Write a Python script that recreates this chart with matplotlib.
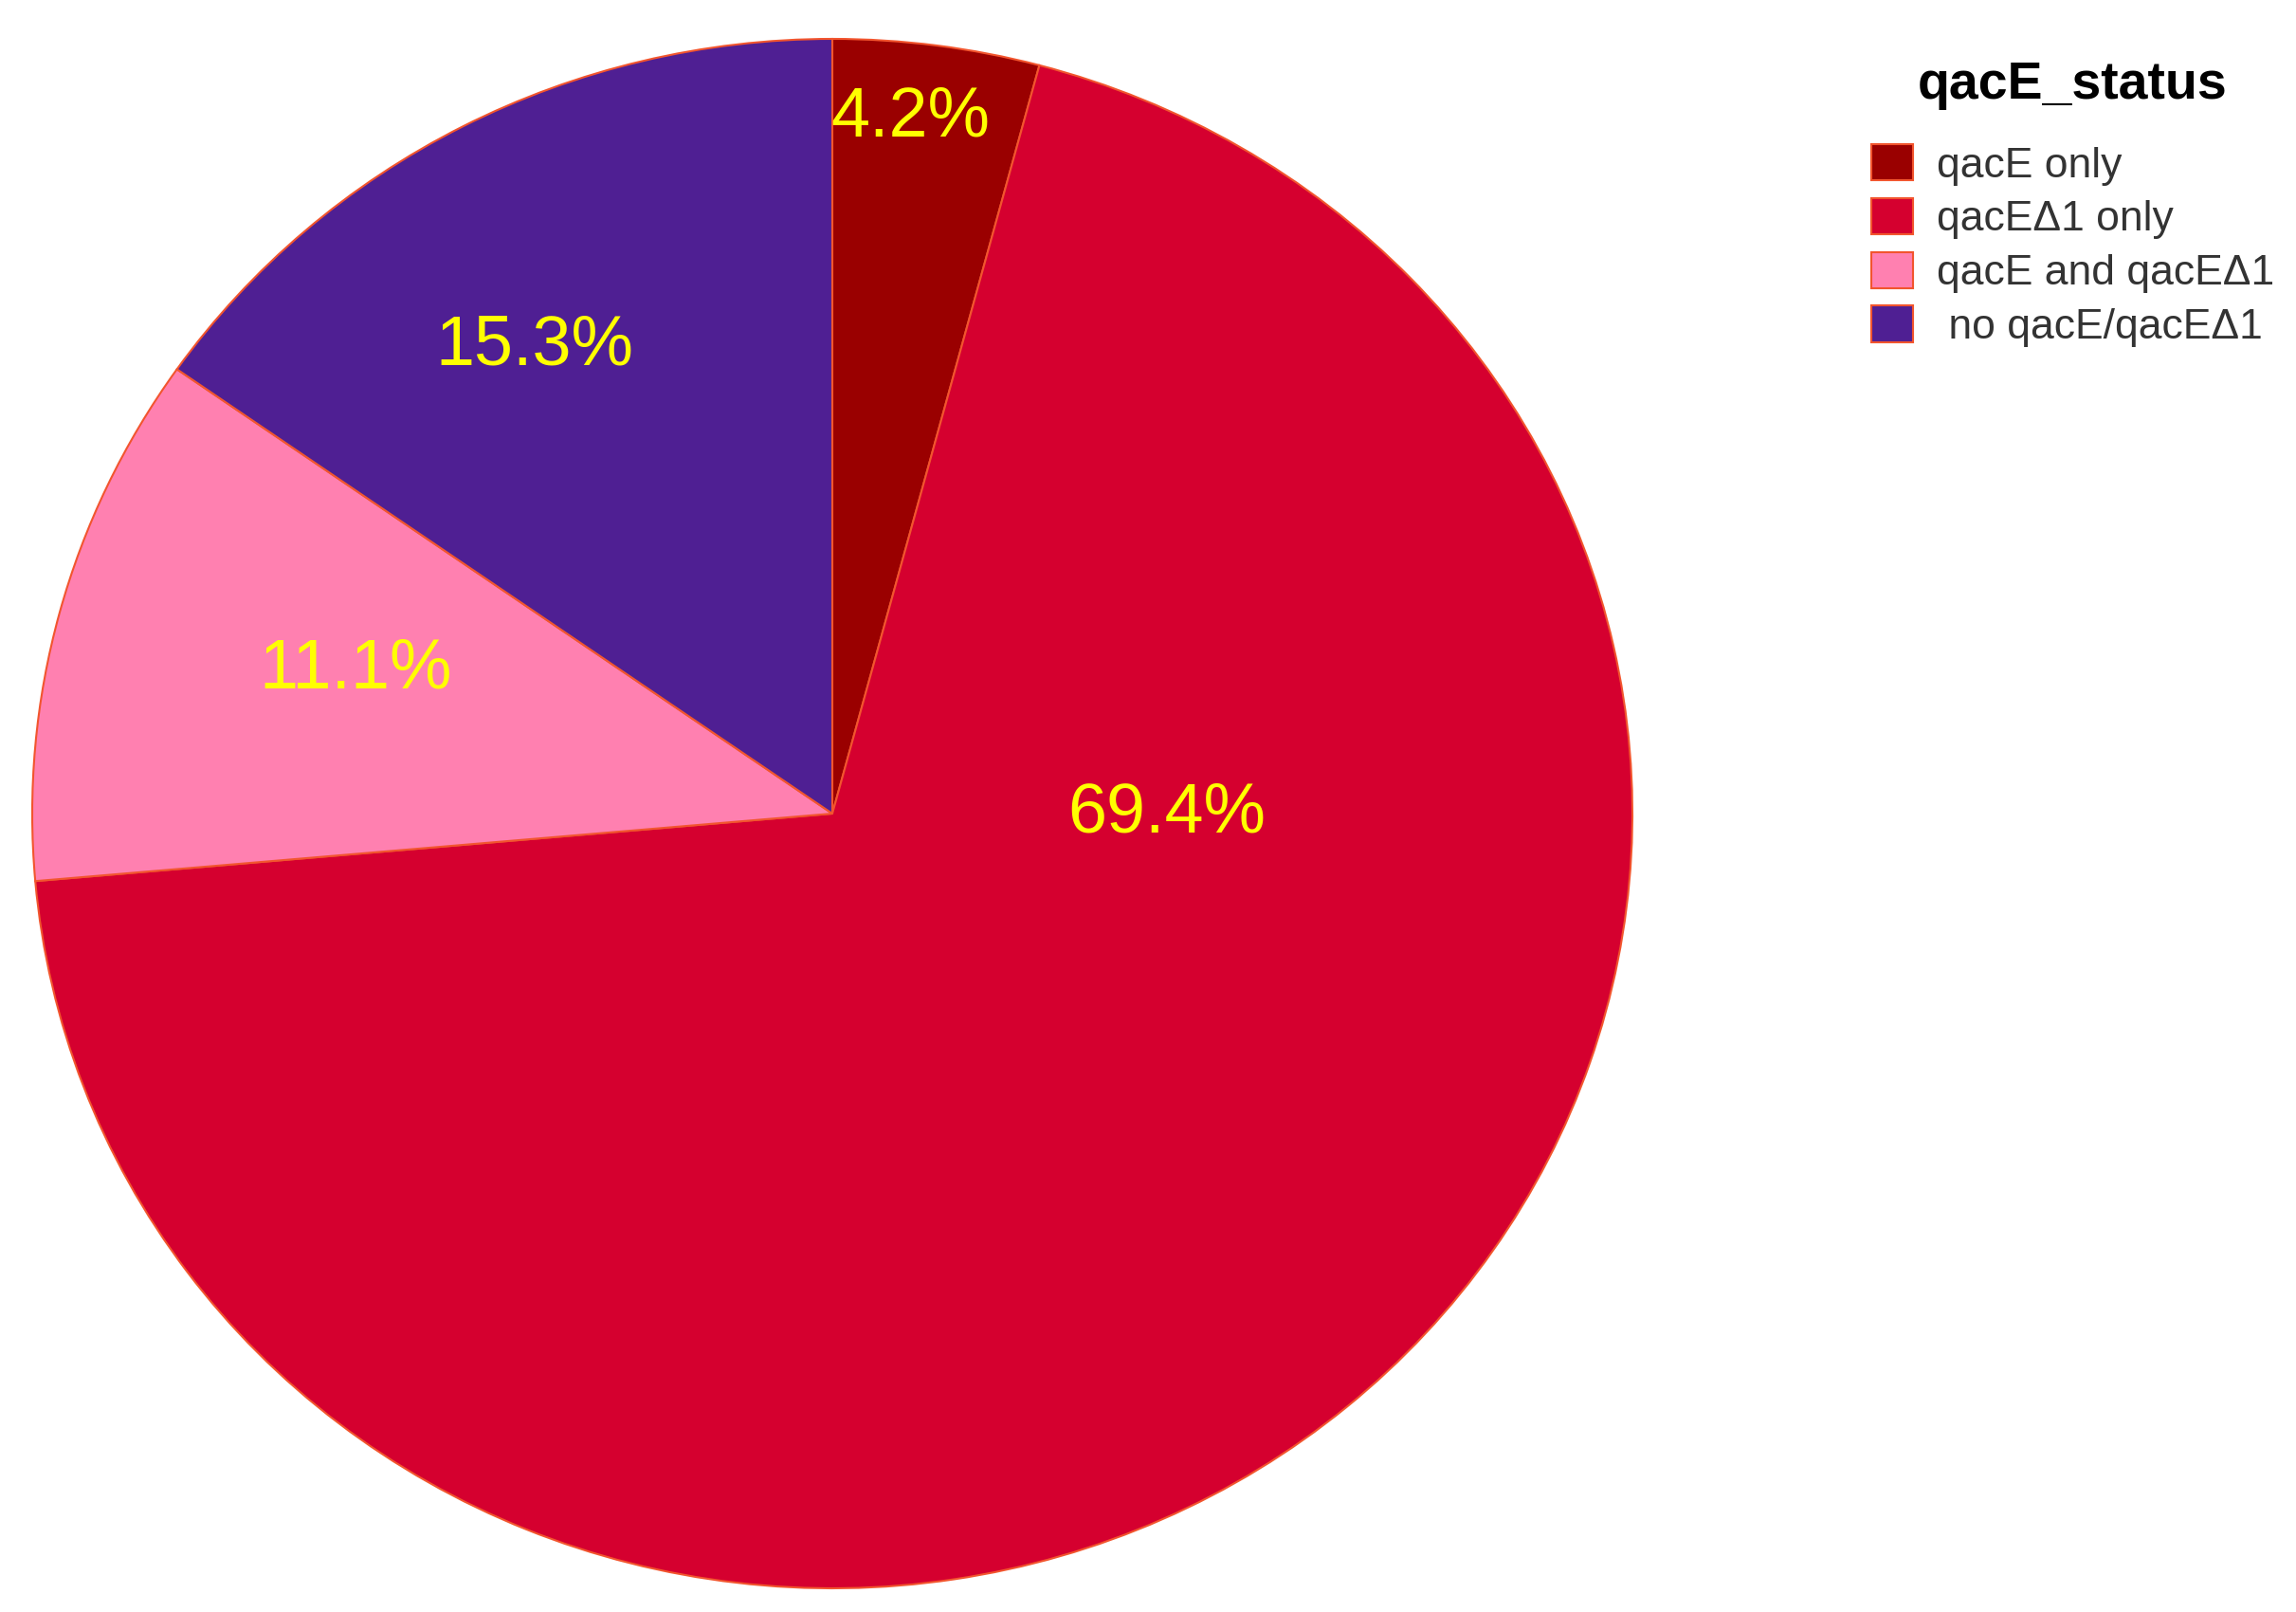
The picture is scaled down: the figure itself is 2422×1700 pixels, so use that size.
import matplotlib
matplotlib.use("Agg")
import matplotlib.pyplot as plt

# isolate counts per qacE status (n = 72)
categories = ["qacE only", "qacE\u03941 only", "qacE and qacE\u03941", " no qacE/qacE\u03941"]
counts = [3, 50, 8, 11]
colors = ["#9A0000", "#D5002F", "#FF80B0", "#4F1F93"]

# where the percent labels sit (x, y in pie units), as in the original
label_xy = [(0.098, 0.898), (0.418, 0.0), (-0.596, 0.186), (-0.372, 0.603)]

plt.rcParams["font.family"] = ["Liberation Sans", "DejaVu Sans"]

W, H = 2422, 1700
fig = plt.figure(figsize=(W / 100, H / 100), dpi=100)

# pie is a bit wider than tall in the reference
cx, cy, rx, ry = 878, 858, 844, 817
m = 1.03
ax = fig.add_axes([(cx - rx * m) / W, (H - cy - ry * m) / H, 2 * rx * m / W, 2 * ry * m / H])

wedges, texts, autotexts = ax.pie(
    counts, colors=colors, startangle=90, counterclock=False,
    autopct="%1.1f%%", radius=1,
    wedgeprops=dict(edgecolor="#F2552E", linewidth=1.5),
    textprops=dict(color="#FFFF00", fontsize=53),
)
ax.set_aspect("auto")
ax.set_xlim(-m, m)
ax.set_ylim(-m, m)

for t, (x, y) in zip(autotexts, label_xy):
    t.set_position((x, y))
    t.set_ha("center")
    t.set_va("center")

leg = fig.legend(
    wedges, categories, title="qacE_status",
    loc="upper left", bbox_to_anchor=(1974 / W, 1 - 64 / H),
    frameon=False, fontsize=32, title_fontproperties=dict(size=40, weight="bold"),
    handlelength=1.0, handleheight=0.95, handletextpad=0.55, labelspacing=0.3,
    borderpad=0, borderaxespad=0,
)
leg._legend_box.sep = 26
for txt in leg.get_texts():
    txt.set_color("#333333")

fig.savefig("out.png", dpi=100, facecolor="white")
